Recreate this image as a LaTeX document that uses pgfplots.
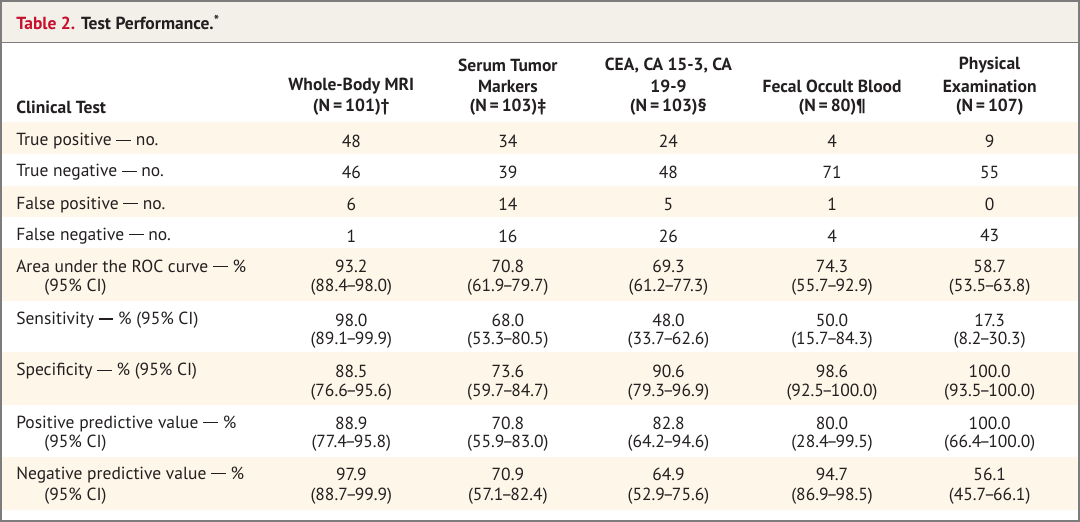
\documentclass[border=0pt]{standalone}
\usepackage{fontspec}
\setmainfont{PT Sans}
\usepackage{pgfplots}
\pgfplotsset{compat=1.18}
\usepackage{pgfplotstable}
\definecolor{cream}{HTML}{FEF6E8}
\definecolor{titlebg}{HTML}{F3F0EA}
\definecolor{bordergray}{HTML}{7C7C7C}
\definecolor{nejmred}{HTML}{C8102E}
\definecolor{txt}{HTML}{231F20}
\newcommand\nd{\kern-0.13em–\kern-0.13em}
\newcommand\emd{\rule[0.27em]{0.85em}{0.075em}}

\pgfplotstableread[col sep=semicolon]{
x;y;label
18;106;Clinical Test
}\stubhead

\pgfplotstableread[col sep=semicolon]{
x;y;label
18;140;True positive \emd{} no.
18;171;True negative \emd{} no.
18;203;False positive \emd{} no.
18;234;False negative \emd{} no.
18;264;Area under the ROC curve \emd{} \%
46;285;(95\% CI)
18;318;Sensitivity \emd{} \% (95\% CI)
18;369;Specificity \emd{} \% (95\% CI)
18;421;Positive predictive value \emd{} \%
46;441;(95\% CI)
18;472;Negative predictive value \emd{} \%
46;493;(95\% CI)
}\rowlabels

\pgfplotstableread[col sep=semicolon]{
x;y;label
352;85;Whole-Body MRI
352;106;(N\,=\,101)†
508;64;Serum Tumor
508;85;Markers
508;106;(N\,=\,103)‡
668;64;CEA, CA 15-3, CA
668;85;19-9
668;106;(N\,=\,103)§
831;85;Fecal Occult Blood
831;106;(N\,=\,80)¶
988;64;Physical
988;85;Examination
988;106;(N\,=\,107)
}\headers

\pgfplotstableread[col sep=semicolon]{
y;label
140;48
171;46
203;6
234;1
264;93.2
285;(88.4\nd 98.0)
318;98.0
338;(89.1\nd 99.9)
369;88.5
390;(76.6\nd 95.6)
421;88.9
441;(77.4\nd 95.8)
472;97.9
493;(88.7\nd 99.9)
}\mri

\pgfplotstableread[col sep=semicolon]{
y;label
140;34
171;39
203;14
234;16
264;70.8
285;(61.9\nd 79.7)
318;68.0
338;(53.3\nd 80.5)
369;73.6
390;(59.7\nd 84.7)
421;70.8
441;(55.9\nd 83.0)
472;70.9
493;(57.1\nd 82.4)
}\serum

\pgfplotstableread[col sep=semicolon]{
y;label
140;24
171;48
203;5
234;26
264;69.3
285;(61.2\nd 77.3)
318;48.0
338;(33.7\nd 62.6)
369;90.6
390;(79.3\nd 96.9)
421;82.8
441;(64.2\nd 94.6)
472;64.9
493;(52.9\nd 75.6)
}\cea

\pgfplotstableread[col sep=semicolon]{
y;label
140;4
171;71
203;1
234;4
264;74.3
285;(55.7\nd 92.9)
318;50.0
338;(15.7\nd 84.3)
369;98.6
390;(92.5\nd 100.0)
421;80.0
441;(28.4\nd 99.5)
472;94.7
493;(86.9\nd 98.5)
}\fecal

\pgfplotstableread[col sep=semicolon]{
y;label
140;9
171;55
203;0
234;43
264;58.7
285;(53.5\nd 63.8)
318;17.3
338;(8.2\nd 30.3)
369;100.0
390;(93.5\nd 100.0)
421;100.0
441;(66.4\nd 100.0)
472;56.1
493;(45.7\nd 66.1)
}\physical

\begin{document}
\begin{tikzpicture}
\begin{axis}[
  width=1080bp, height=525bp, scale only axis,
  xmin=0, xmax=1080, ymin=0, ymax=525, y dir=reverse,
  hide axis, clip=false,
  point meta=explicit symbolic,
  txtcell/.style={draw=none, mark=none, nodes near coords,
    every node near coord/.append style={font=\fontsize{17.5}{20}\selectfont, text=txt, inner sep=0pt, anchor=center, yshift=-3bp}},
  txtleft/.style={txtcell, every node near coord/.append style={anchor=west}},
  txtbold/.style={txtcell, every node near coord/.append style={font=\fontsize{17.5}{20}\selectfont\bfseries}},
]
% backgrounds
\fill[titlebg] (axis cs:3,3) rectangle (axis cs:1077,44);
\fill[cream] (axis cs:3,124) rectangle (axis cs:1077,155);
\fill[cream] (axis cs:3,187) rectangle (axis cs:1077,218);
\fill[cream] (axis cs:3,249) rectangle (axis cs:1077,302);
\fill[cream] (axis cs:3,353) rectangle (axis cs:1077,405);
\fill[cream] (axis cs:3,457) rectangle (axis cs:1077,510);
\draw[bordergray, line width=1.2bp] (axis cs:3,44) -- (axis cs:1077,44);
\draw[bordergray, line width=2bp] (axis cs:3,3) rectangle (axis cs:1077,521);
\node[anchor=west, inner sep=0pt, text=txt, font=\fontsize{17.5}{20}\selectfont\bfseries] at (axis cs:18,24)
  {\textcolor{nejmred}{Table 2.} Test Performance.\raisebox{0.45ex}{\fontsize{14}{14}\selectfont *}};

\addplot[txtleft, every node near coord/.append style={font=\fontsize{17.5}{20}\selectfont\bfseries}] table[x=x, y=y, meta=label]{\stubhead};
\addplot[txtleft] table[x=x, y=y, meta=label]{\rowlabels};
\addplot[txtbold] table[x=x, y=y, meta=label]{\headers};
\addplot[txtcell] table[x expr=352, y=y, meta=label]{\mri};
\addplot[txtcell] table[x expr=508, y=y, meta=label]{\serum};
\addplot[txtcell] table[x expr=668, y=y, meta=label]{\cea};
\addplot[txtcell] table[x expr=831, y=y, meta=label]{\fecal};
\addplot[txtcell] table[x expr=988, y=y, meta=label]{\physical};
\end{axis}
\end{tikzpicture}
\end{document}
